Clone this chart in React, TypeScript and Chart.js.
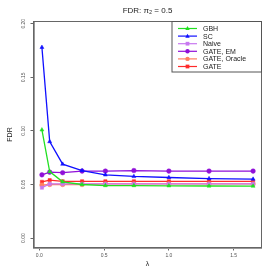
import React, { useEffect, useRef } from 'react';
import { Chart, registerables } from 'chart.js';

Chart.register(...registerables);

const chartTitle = 'FDR: π₂ = 0.5';
const xTitle = 'λ';
const yTitle = 'FDR';
const lambdas = [0.02, 0.08, 0.18, 0.33, 0.51, 0.73, 1.0, 1.31, 1.65];
const gbh = [0.101, 0.062, 0.0525, 0.050, 0.049, 0.049, 0.0488, 0.0486, 0.0485];
const sc = [0.178, 0.090, 0.069, 0.063, 0.059, 0.0575, 0.0565, 0.0555, 0.055];
const naive = [0.047, 0.0505, 0.0505, 0.0505, 0.0505, 0.0505, 0.0505, 0.0505, 0.0505];
const gateEm = [0.059, 0.0615, 0.061, 0.0625, 0.0625, 0.063, 0.0625, 0.0625, 0.0625];
const gateOracle = [0.0495, 0.050, 0.050, 0.050, 0.0505, 0.0505, 0.0505, 0.0505, 0.0505];
const gate = [0.0525, 0.054, 0.053, 0.053, 0.053, 0.053, 0.053, 0.053, 0.053];
const seriesNames = ['GBH', 'SC', 'Naive', 'GATE, EM', 'GATE, Oracle', 'GATE'];
const xTicks = [0, 0.5, 1, 1.5];
const yTicks = [0, 0.05, 0.1, 0.15, 0.2];

const seriesValues = [gbh, sc, naive, gateEm, gateOracle, gate];
const seriesColors = ['#22e022', '#1010ff', '#c878f0', '#9010d8', '#ff8060', '#ff2a2a'];
const seriesShapes = ['triangle', 'triangle', 'rect', 'circle', 'circle', 'rect'];

const FONT = '"Liberation Sans", Arial, sans-serif';

function drawMarker(ctx: CanvasRenderingContext2D, shape: string, x: number, y: number, r: number, color: string) {
  ctx.save();
  ctx.fillStyle = color;
  ctx.strokeStyle = color;
  ctx.beginPath();
  if (shape === 'triangle') {
    ctx.moveTo(x, y - r * 1.1);
    ctx.lineTo(x + r, y + r * 0.7);
    ctx.lineTo(x - r, y + r * 0.7);
    ctx.closePath();
  } else if (shape === 'rect') {
    ctx.rect(x - r * 0.85, y - r * 0.85, r * 1.7, r * 1.7);
  } else {
    ctx.arc(x, y, r, 0, Math.PI * 2);
  }
  ctx.fill();
  ctx.restore();
}

const framePlugin = {
  id: 'frameAndLegend',
  afterDraw(chart: any) {
    const { ctx, chartArea } = chart;
    const { left, right, top, bottom } = chartArea;
    ctx.save();
    // box
    ctx.strokeStyle = '#666';
    ctx.lineWidth = 1;
    ctx.strokeRect(left, top, right - left, bottom - top);
    // title
    ctx.fillStyle = '#222';
    ctx.font = `8px ${FONT}`;
    ctx.textAlign = 'center';
    ctx.textBaseline = 'middle';
    ctx.fillText(chartTitle, (left + right) / 2, 10.5);
    // legend
    const L = 172;
    const R = right;
    const T = top;
    const B = 72;
    ctx.fillStyle = '#fff';
    ctx.fillRect(L, T, R - L, B - T);
    ctx.strokeStyle = '#555';
    ctx.strokeRect(L, T, R - L, B - T);
    chart.data.datasets.forEach((ds: any, i: number) => {
      const y = 28.5 + i * 7.6;
      ctx.strokeStyle = ds.borderColor;
      ctx.lineWidth = 1.2;
      ctx.beginPath();
      ctx.moveTo(L + 6, y);
      ctx.lineTo(L + 25, y);
      ctx.stroke();
      drawMarker(ctx, seriesShapes[i], L + 15.5, y, 2.2, ds.borderColor);
      ctx.fillStyle = '#222';
      ctx.font = `7px ${FONT}`;
      ctx.textAlign = 'left';
      ctx.textBaseline = 'middle';
      ctx.fillText(ds.label, L + 31, y + 0.5);
    });
    ctx.restore();
  },
};

export default function App() {
  const ref = useRef<HTMLCanvasElement | null>(null);
  useEffect(() => {
    if (!ref.current) return;
    const datasets = seriesNames.map((name, i) => ({
      label: name,
      data: lambdas.map((x, j) => ({ x, y: seriesValues[i][j] })),
      borderColor: seriesColors[i],
      backgroundColor: seriesColors[i],
      borderWidth: 1.3,
      pointStyle: seriesShapes[i] as any,
      pointRadius: 2.3,
      pointBorderWidth: 0.5,
      tension: 0,
    }));
    const chart = new Chart(ref.current, {
      type: 'line',
      data: { datasets },
      options: {
        responsive: false,
        animation: false,
        layout: { padding: { top: 21.5, right: 11.5, left: 0, bottom: 0 } },
        plugins: {
          legend: { display: false },
          title: { display: false },
          tooltip: { enabled: false },
        },
        scales: {
          x: {
            type: 'linear',
            min: -0.045,
            max: 1.715,
            afterBuildTicks: (s: any) => { s.ticks = xTicks.map((v) => ({ value: v })); },
            afterFit: (s: any) => { s.height = 25.5; },
            ticks: {
              font: { size: 5, family: FONT },
              color: '#555',
              padding: 2,
              maxRotation: 0,
              minRotation: 0,
              autoSkip: false,
              callback: (v: any) => Number(v).toFixed(1),
            },
            grid: { drawOnChartArea: false, drawTicks: true, tickLength: 3, color: '#666' },
            border: { display: true, color: '#999', width: 2 },
            title: { display: true, text: xTitle, font: { size: 7, family: FONT }, color: '#222', padding: { top: 0, bottom: 4.8 } },
          },
          y: {
            type: 'linear',
            min: -0.0088,
            max: 0.2021,
            afterBuildTicks: (s: any) => { s.ticks = yTicks.map((v) => ({ value: v })); },
            afterFit: (s: any) => { s.width = 33.5; },
            ticks: {
              font: { size: 5, family: FONT },
              color: '#555',
              padding: 2.2,
              minRotation: 90,
              maxRotation: 90,
              crossAlign: 'center',
              autoSkip: false,
              callback: (v: any) => Number(v).toFixed(2),
            },
            grid: { drawOnChartArea: false, drawTicks: true, tickLength: 3, color: '#666' },
            border: { display: true, color: '#999', width: 2 },
            title: { display: true, text: yTitle, font: { size: 7, family: FONT }, color: '#222', padding: { top: 5.8, bottom: 0 } },
          },
        },
      },
      plugins: [framePlugin],
    });
    return () => chart.destroy();
  }, []);
  return (
    <div style={{ position: 'fixed', left: 0, top: 0, width: 273, height: 273, background: '#fff' }}>
      <canvas ref={ref} width={273} height={273} style={{ width: 273, height: 273 }} />
    </div>
  );
}
